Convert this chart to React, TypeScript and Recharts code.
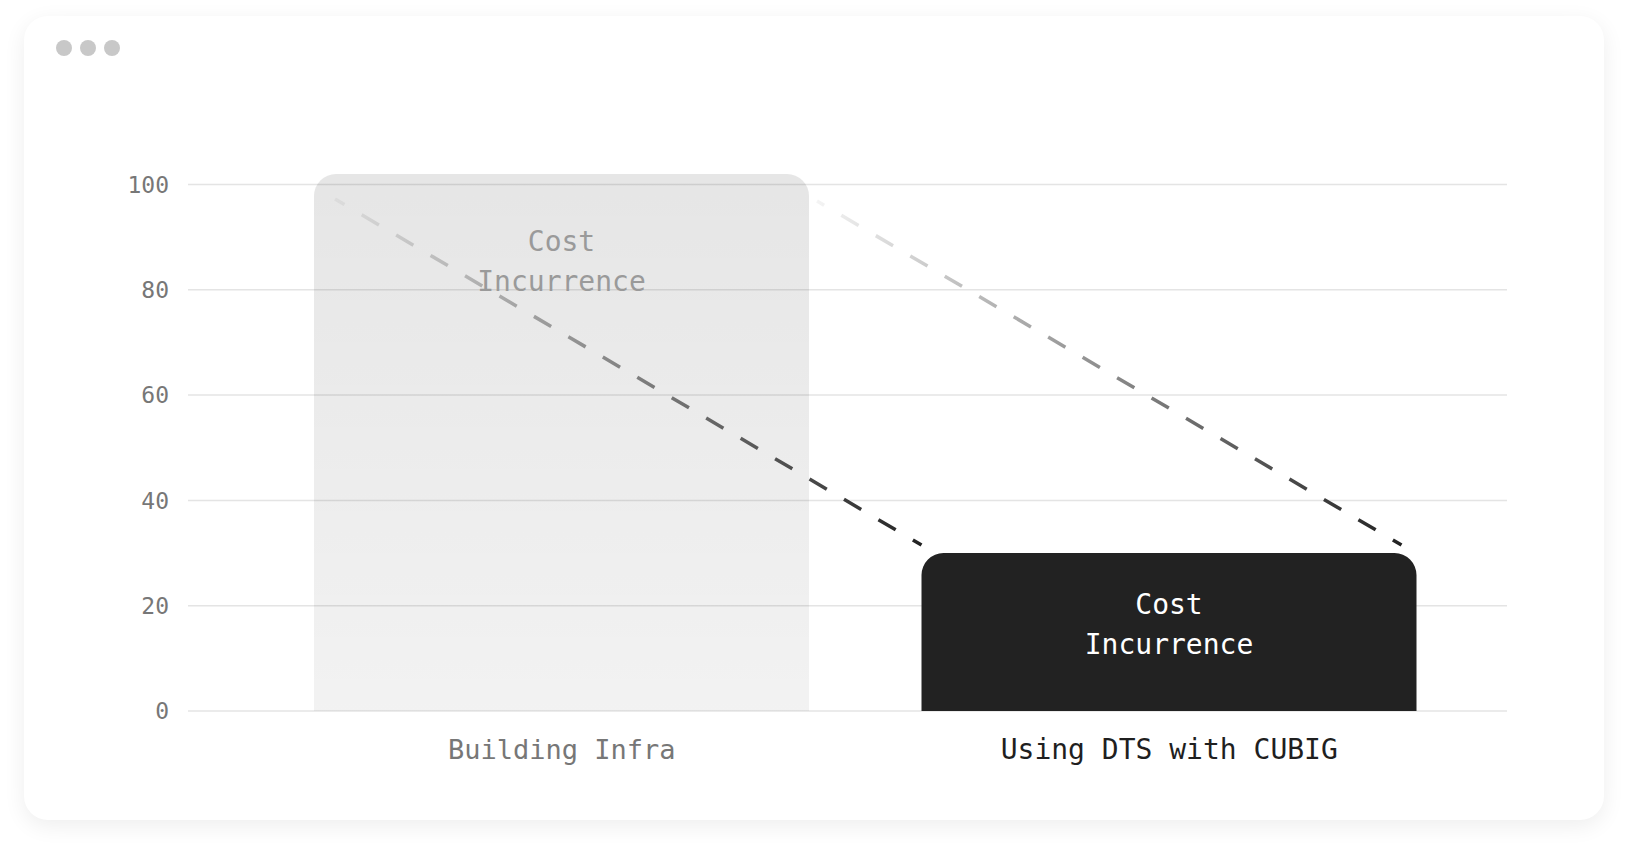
import { BarChart, Bar, XAxis, YAxis, CartesianGrid, Rectangle } from 'recharts';

const categories = ['Building Infra', 'Using DTS with CUBIG'];
const costValues = [102, 30];
const barLabels = ['Cost Incurrence', 'Cost Incurrence'];
const yTicks = [0, 20, 40, 60, 80, 100];

const data = categories.map((name, i) => ({ name, cost: costValues[i], label: barLabels[i] }));

const MONO = '"DejaVu Sans Mono", "Liberation Mono", monospace';

// bar boxes get recorded while drawing so the second bar can connect back to the first
const boxes: { x: number; y: number; width: number; height: number }[] = [];

const CostBar = (props: any) => {
  const { x, y, width, height, index, payload } = props;
  boxes[index] = { x, y, width, height };
  const cx = x + width / 2;
  const first = index === 0;
  const labelTop = first ? 77 : 61;
  const words = String(payload.label).split(' ');

  const label = (
    <text x={cx} y={y + labelTop} textAnchor='middle' fontFamily={MONO} fontSize={28} fill={first ? '#9a9a9a' : '#ffffff'}>
      {words.map((w, i) => (
        <tspan key={i} x={cx} dy={i === 0 ? 0 : 40}>{w}</tspan>
      ))}
    </text>
  );

  const rect = (
    <Rectangle x={x} y={y} width={width} height={height} radius={[22, 22, 0, 0]} fill={first ? 'url(#infraFill)' : '#222222'} />
  );

  if (first || !boxes[0]) {
    return (
      <g>
        <defs>
          <linearGradient id='infraFill' x1='0' y1='0' x2='0' y2='1'>
            <stop offset='0' stopColor='#000' stopOpacity={0.1} />
            <stop offset='1' stopColor='#000' stopOpacity={0.05} />
          </linearGradient>
        </defs>
        {rect}
        {label}
      </g>
    );
  }

  const a = boxes[0];
  // drawn from the lower end up, so the dash pattern ends cleanly at the dark bar
  const links = [
    { x1: x, y1: y - 8, x2: a.x + 21, y2: a.y + 25 },
    { x1: x + width - 15, y1: y - 8, x2: a.x + a.width + 8, y2: a.y + 27 },
  ];

  return (
    <g>
      {rect}
      {label}
      {links.map((l, i) => (
        <g key={i}>
          <defs>
            <linearGradient id={`fade${i}`} gradientUnits='userSpaceOnUse' x1={l.x2} y1={l.y2} x2={l.x1} y2={l.y1}>
              <stop offset='0' stopColor='#222' stopOpacity={0.05} />
              <stop offset='1' stopColor='#222' stopOpacity={1} />
            </linearGradient>
          </defs>
          <line
            x1={l.x1}
            y1={l.y1}
            x2={l.x2}
            y2={l.y2}
            stroke={`url(#fade${i})`}
            strokeWidth={3.5}
            strokeDasharray='20 20'
            strokeDashoffset={10}
          />
        </g>
      ))}
    </g>
  );
};

const CategoryTick = (props: any) => {
  const { x, y, payload } = props;
  const highlight = payload.value === categories[1];
  return (
    <text
      x={x}
      y={y + 48}
      textAnchor='middle'
      fontFamily={MONO}
      fontSize={highlight ? 28 : 27}
      fill={highlight ? '#1f1f1f' : '#777777'}
    >
      {payload.value}
    </text>
  );
};

const dots = [56, 80, 104];

export default function App() {
  return (
    <div style={{ position: 'absolute', left: 0, top: 0, width: 1628, height: 852, background: '#ffffff', overflow: 'hidden' }}>
      <div
        style={{
          position: 'absolute',
          left: 24,
          top: 16,
          width: 1580,
          height: 804,
          background: '#ffffff',
          borderRadius: 24,
          boxShadow: '0 6px 22px rgba(0,0,0,0.07)',
        }}
      />
      {dots.map((left) => (
        <div
          key={left}
          style={{ position: 'absolute', left, top: 40, width: 16, height: 16, borderRadius: 8, background: '#c8c8c8' }}
        />
      ))}
      <div style={{ position: 'absolute', left: 0, top: 0 }}>
        <BarChart width={1628} height={852} data={data} margin={{ top: 174, right: 121, bottom: 0, left: 0 }}>
          <CartesianGrid vertical={false} horizontalValues={yTicks} stroke='#e4e4e4' strokeWidth={1.5} />
          <XAxis
            dataKey='name'
            height={141}
            padding={{ left: 70, right: 34 }}
            axisLine={false}
            tickLine={false}
            tickSize={0}
            tickMargin={0}
            tick={<CategoryTick />}
          />
          <YAxis
            width={188}
            domain={[0, 'dataMax']}
            ticks={yTicks}
            axisLine={false}
            tickLine={false}
            tickSize={0}
            tickMargin={19}
            tick={{ fill: '#777777', fontSize: 23, fontFamily: MONO }}
          />
          <Bar dataKey='cost' barSize={495} shape={CostBar} isAnimationActive={false} />
        </BarChart>
      </div>
    </div>
  );
}
